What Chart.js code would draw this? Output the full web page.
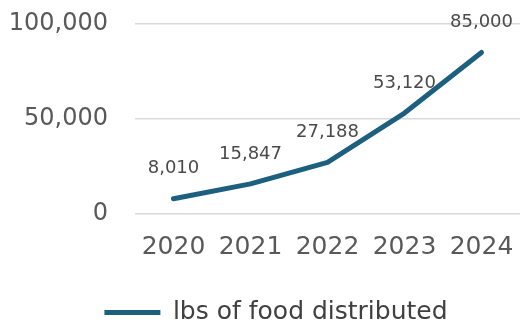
<!DOCTYPE html>
<html><head><meta charset="utf-8">
<script src="https://cdn.jsdelivr.net/npm/chart.js@4"></script>
<style>html,body{margin:0;padding:0;background:#fff}#w{width:521px;height:322px}</style>
</head><body><div id="w"><canvas id="c"></canvas></div>
<script>
const categories = ["2020","2021","2022","2023","2024"];
const seriesName = "lbs of food distributed";
const values = [8010, 15847, 27188, 53120, 85000];
const yTicks = [0, 50000, 100000];

const FONT = "'DejaVu Sans', sans-serif";
const LINE = "#1d5f7f";

const labelPlugin = {
  id: 'valueLabels',
  afterLayout(chart) {
    const lg = chart.legend;
    if (lg) { lg.left += 16; lg.right += 16; }
  },
  afterDatasetsDraw(chart) {
    const ctx = chart.ctx;
    const meta = chart.getDatasetMeta(0);
    ctx.save();
    ctx.font = "18px " + FONT;
    ctx.fillStyle = "#4a4a4a";
    ctx.textAlign = "center";
    ctx.textBaseline = "middle";
    meta.data.forEach((pt, i) => {
      ctx.fillText(values[i].toLocaleString('en-US'), pt.x, pt.y - 30);
    });
    ctx.restore();
  }
};

new Chart(document.getElementById('c'), {
  type: 'line',
  data: {
    labels: categories,
    datasets: [{
      label: seriesName,
      data: values,
      borderColor: LINE,
      backgroundColor: LINE,
      borderWidth: 5,
      borderCapStyle: 'round',
      borderJoinStyle: 'round',
      pointRadius: 0,
      pointHoverRadius: 0,
      pointStyle: 'line',
      tension: 0
    }]
  },
  options: {
    responsive: true,
    maintainAspectRatio: false,
    animation: false,
    events: [],
    layout: { padding: { top: 24, right: 1, left: 0, bottom: -13 } },
    scales: {
      x: {
        offset: true,
        afterFit(axis) { axis.height = 86; axis.paddingLeft = 0; axis.paddingRight = 0; },
        grid: { display: false, drawTicks: false },
        border: { display: false },
        ticks: { color: "#595959", font: { family: FONT, size: 25 }, padding: 18 }
      },
      y: {
        min: 0, max: 100000,
        afterBuildTicks(axis) { axis.ticks = yTicks.map(v => ({ value: v })); },
        afterFit(axis) { axis.width = 135; axis.paddingTop = 0; axis.paddingBottom = 0; },
        grid: { color: "#d9d9d9", lineWidth: 1.5, drawTicks: false },
        border: { display: false },
        ticks: {
          color: "#595959", font: { family: FONT, size: 24 }, padding: 27,
          callback: v => v.toLocaleString('en-US')
        }
      }
    },
    plugins: {
      legend: {
        position: 'bottom',
        labels: {
          usePointStyle: true,
          pointStyleWidth: 56,
          boxWidth: 38,
          boxHeight: 5,
          padding: 0,
          color: "#404040",
          font: { family: FONT, size: 25 }
        }
      },
      tooltip: { enabled: false }
    }
  },
  plugins: [labelPlugin]
});
</script>
</body></html>
